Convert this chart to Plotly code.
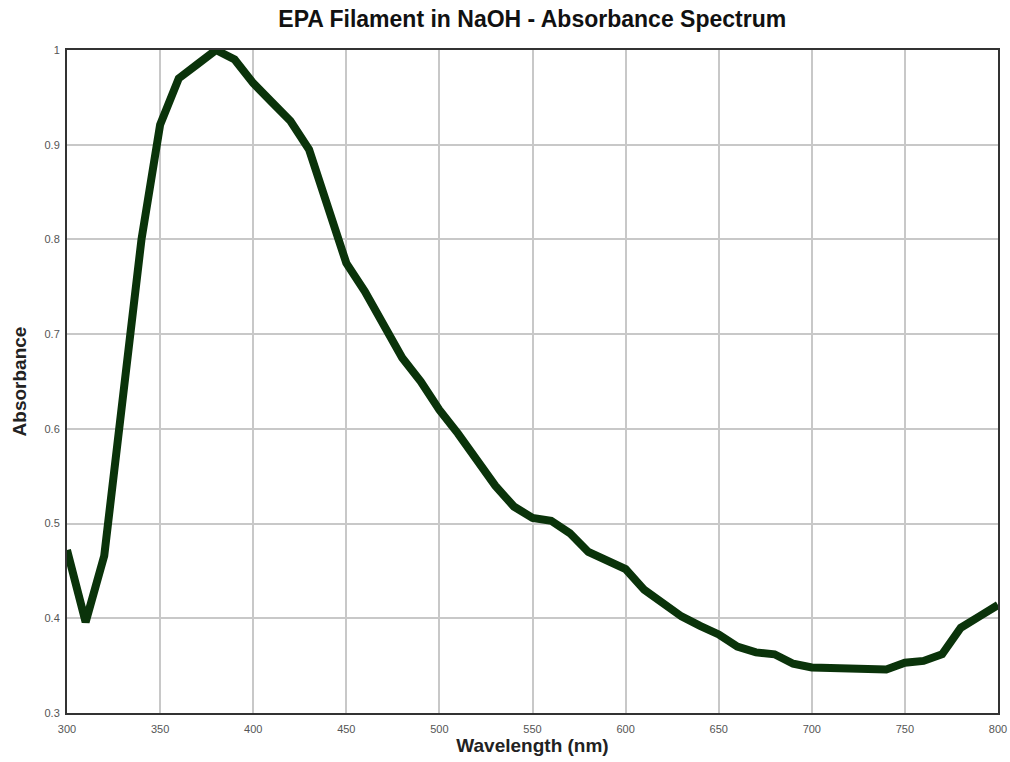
import plotly.graph_objects as go

wavelength = [300, 310, 320, 330, 340, 350, 360, 370, 380, 390, 400, 410, 420, 430, 440, 450,
              460, 470, 480, 490, 500, 510, 520, 530, 540, 550, 560, 570, 580, 590, 600, 610,
              620, 630, 640, 650, 660, 670, 680, 690, 700, 710, 720, 730, 740, 750, 760, 770,
              780, 790, 800]
absorbance = [0.472, 0.396, 0.466, 0.630, 0.800, 0.921, 0.970, 0.985, 1.000, 0.990, 0.965, 0.945,
              0.925, 0.895, 0.835, 0.775, 0.745, 0.710, 0.675, 0.650, 0.620, 0.595, 0.568, 0.540,
              0.518, 0.506, 0.503, 0.490, 0.470, 0.462, 0.452, 0.430, 0.415, 0.402, 0.392, 0.383,
              0.370, 0.364, 0.362, 0.352, 0.348, 0.348, 0.346, 0.346, 0.346, 0.353, 0.355, 0.362,
              0.390, 0.402, 0.414]

fig = go.Figure(go.Scatter(
    x=wavelength, y=absorbance, mode="lines",
    line=dict(color="#0a330a", width=8), showlegend=False, hoverinfo="x+y"))

axis_common = dict(
    showgrid=True, gridcolor="#c8c8c8", gridwidth=1.5,
    showline=True, linecolor="#333333", linewidth=2, mirror=True,
    ticks="", zeroline=False, automargin=False,
    tickfont=dict(family="Arial, Liberation Sans", size=11, color="#555555"),
    title_font=dict(family="Arial, Liberation Sans", size=19, color="#222222"),
)

fig.update_xaxes(range=[300, 800], dtick=50, tick0=300, ticklabelstandoff=5,
                 title_text="<b>Wavelength (nm)</b>", title_standoff=4, **axis_common)
fig.update_yaxes(range=[0.3, 1.0], dtick=0.1, tick0=0.3, ticklabelstandoff=3,
                 title_text="<b>Absorbance</b>", title_standoff=13, **axis_common)

fig.update_layout(
    width=1010, height=762,
    margin=dict(l=67, r=12, t=50, b=49),
    paper_bgcolor="white", plot_bgcolor="white",
    title=dict(text="<b>EPA Filament in NaOH - Absorbance Spectrum</b>",
               x=0.527, xanchor="center", y=0.975, yanchor="middle",
               font=dict(family="Arial, Liberation Sans", size=23, color="#111111")),
)

fig.write_html("out.html", config={"displayModeBar": False},
               post_script="document.body.style.margin='0';document.body.style.overflow='hidden';")
